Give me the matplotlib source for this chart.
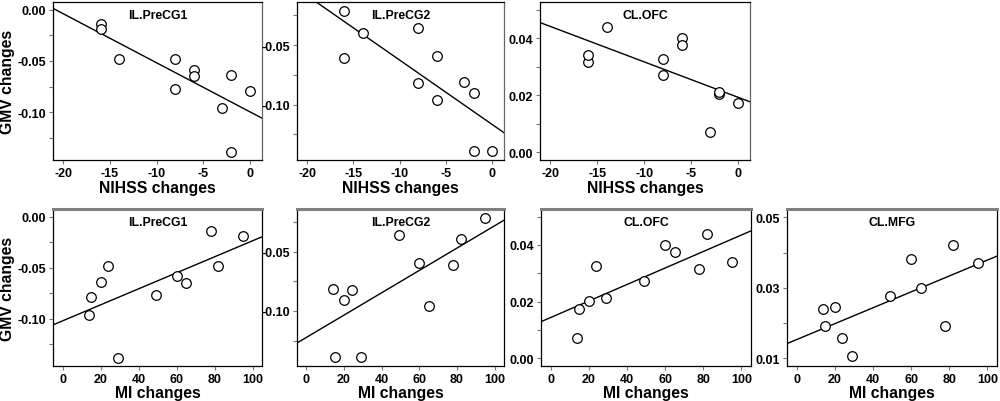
import matplotlib
matplotlib.use("Agg")
import matplotlib.pyplot as plt
from matplotlib.ticker import MultipleLocator, FuncFormatter
import numpy as np

plt.rcParams['font.family'] = ['Liberation Sans', 'DejaVu Sans']
plt.rcParams['font.weight'] = 'bold'

# one entry per patient, ordered by MI change
mi_changes = [14, 15, 20, 24, 29, 49, 60, 65, 78, 82, 95]
nihss_changes = [-3, 0, -2, -8, -2, -8, -6, -6, -16, -14, -16]

gmv_il_precg1 = [-0.096, -0.079, -0.064, -0.048, -0.139, -0.077, -0.0585, -0.0647, -0.0142, -0.048, -0.0193]
gmv_il_precg2 = [-0.081, -0.139, -0.0906, -0.082, -0.139, -0.036, -0.0595, -0.096, -0.061, -0.0395, -0.021]
gmv_cl_ofc = [0.0072, 0.0173, 0.0204, 0.0326, 0.0213, 0.0272, 0.0400, 0.0375, 0.0315, 0.0440, 0.0340]
gmv_cl_mfg = [0.0240, 0.0191, 0.0245, 0.0157, 0.0107, 0.0276, 0.0382, 0.0299, 0.0192, 0.0422, 0.0371]

top_regions = ['IL.PreCG1', 'IL.PreCG2', 'CL.OFC']
bottom_regions = ['IL.PreCG1', 'IL.PreCG2', 'CL.OFC', 'CL.MFG']

W, H = 1000, 402
fig = plt.figure(figsize=(W / 100, H / 100), dpi=100)

def box(l, t, r, b):
    return fig.add_axes([l / W, 1 - b / H, (r - l) / W, (b - t) / H])

# y settings per region: limits, tick step, label step
yset = {
    'IL.PreCG1': ((-0.1465, 0.0075), 0.025, 0.05, gmv_il_precg1),
    'IL.PreCG2': ((-0.1465, -0.0138), 0.025, 0.05, gmv_il_precg2),
    'CL.OFC': ((-0.0027, 0.0527), 0.01, 0.02, gmv_cl_ofc),
    'CL.MFG': ((0.0078, 0.0524), 0.01, 0.02, gmv_cl_mfg),
}

def fmt_every(step, base):
    def f(v, pos):
        k = (v - base) / step
        if abs(k - round(k)) < 1e-6:
            return f"{v:.2f}".replace("-0.00", "0.00")
        return ""
    return FuncFormatter(f)

def draw(ax, x, region, xlim, xstep, bottom_row):
    (ylo, yhi), ystep, lstep, y = yset[region]
    x = np.asarray(x, float)
    y = np.asarray(y, float)
    ax.scatter(x, y, s=48, facecolors='white', edgecolors='black', linewidths=0.9, zorder=3)
    k, c = np.polyfit(x, y, 1)
    xs = np.array(xlim)
    ax.plot(xs, k * xs + c, color='black', lw=1.0, zorder=2)
    ax.set_xlim(*xlim)
    ax.set_ylim(ylo, yhi)
    ax.xaxis.set_major_locator(MultipleLocator(xstep))
    ax.yaxis.set_major_locator(MultipleLocator(ystep))
    base = 0.01 if region == 'CL.MFG' else 0.0
    ax.yaxis.set_major_formatter(fmt_every(lstep, base))
    ax.xaxis.set_major_formatter(FuncFormatter(lambda v, p: f"{v:g}"))
    ax.tick_params(length=3, width=0.8, color='#777777', labelsize=9, pad=2)
    for lab in ax.get_xticklabels() + ax.get_yticklabels():
        lab.set_fontweight('bold')
    for s in ax.spines.values():
        s.set_linewidth(0.9)
        s.set_color('black')
    if bottom_row:
        ax.spines['top'].set_color('#808080')
        ax.spines['top'].set_linewidth(2.2)
    else:
        ax.spines['right'].set_color('#666666')
    ax.text(0.5, 0.955, region, transform=ax.transAxes, ha='center', va='top',
            fontsize=8.8, fontweight='bold')

top_boxes = [(53, 3, 262, 161), (297, 3, 504, 161), (540, 3, 750, 161)]
bottom_boxes = [(53, 210, 262, 367), (297, 210, 504, 367), (541, 210, 751, 367), (787, 210, 997, 367)]

for i, region in enumerate(top_regions):
    ax = box(*top_boxes[i])
    draw(ax, nihss_changes, region, (-21.1, 1.3), 5, False)
    ax.set_xlabel('NIHSS changes', fontsize=11.3, fontweight='bold', labelpad=1)
    if i == 0:
        ax.set_ylabel('GMV changes', fontsize=11.3, fontweight='bold', labelpad=2)

for i, region in enumerate(bottom_regions):
    ax = box(*bottom_boxes[i])
    draw(ax, mi_changes, region, (-5, 105), 20, True)
    ax.set_xlabel('MI changes', fontsize=11.3, fontweight='bold', labelpad=0)
    if i == 0:
        ax.set_ylabel('GMV changes', fontsize=11.3, fontweight='bold', labelpad=2)

fig.savefig('out.png', dpi=100)
